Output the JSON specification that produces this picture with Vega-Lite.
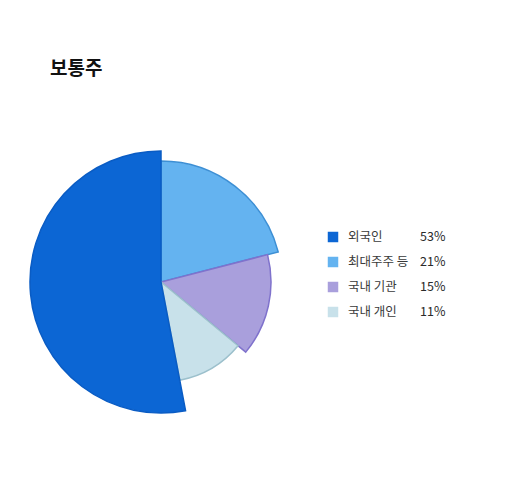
{
  "$schema": "https://vega.github.io/schema/vega-lite/v6.json",
  "background": "white",
  "padding": {"left": 27, "top": 60, "right": 0, "bottom": 0},
  "title": {
    "text": "보통주",
    "anchor": "start",
    "dx": 23,
    "offset": 69,
    "fontSize": 19,
    "fontWeight": "bold",
    "color": "#111111",
    "font": "Noto Sans CJK KR"
  },
  "data": {
    "values": [
      {"name": "최대주주 등", "value": 21, "pct": "21%", "order": 1},
      {"name": "국내 기관", "value": 15, "pct": "15%", "order": 2},
      {"name": "국내 개인", "value": 11, "pct": "11%", "order": 3},
      {"name": "외국인", "value": 53, "pct": "53%", "order": 4}
    ]
  },
  "spacing": 31,
  "hconcat": [
    {
      "width": 262,
      "height": 262,
      "mark": {"type": "arc", "strokeWidth": 1.5},
      "encoding": {
        "theta": {"field": "value", "type": "quantitative", "stack": true},
        "order": {"field": "order", "type": "quantitative"},
        "radius": {
          "field": "value",
          "type": "quantitative",
          "scale": {"type": "linear", "domain": [11, 15, 21, 53], "range": [100, 110, 121, 131], "zero": false}
        },
        "radius2": {"value": 0},
        "color": {
          "field": "name",
          "type": "nominal",
          "legend": null,
          "scale": {
            "domain": ["외국인", "최대주주 등", "국내 기관", "국내 개인"],
            "range": ["#0c66d4", "#64b3f0", "#a99fdc", "#c8e1ea"]
          }
        },
        "stroke": {
          "field": "name",
          "type": "nominal",
          "legend": null,
          "scale": {
            "domain": ["외국인", "최대주주 등", "국내 기관", "국내 개인"],
            "range": ["#0a5cc4", "#3d8fd4", "#7f72cc", "#9cc0cc"]
          }
        }
      }
    },
    {
      "width": 20,
      "height": 262,
      "encoding": {
        "y": {
          "field": "name",
          "type": "nominal",
          "axis": null,
          "scale": {"type": "point", "domain": ["외국인", "최대주주 등", "국내 기관", "국내 개인"], "range": [86, 161], "padding": 0}
        }
      },
      "layer": [
        {
          "mark": {"type": "square", "size": 110, "opacity": 1},
          "encoding": {
            "color": {
              "field": "name",
              "type": "nominal",
              "legend": null,
              "scale": {
                "domain": ["외국인", "최대주주 등", "국내 기관", "국내 개인"],
                "range": ["#0f50c2", "#6cb8f2", "#a59bd8", "#c5dde6"]
              }
            }
          }
        },
        {
          "mark": {"type": "text", "align": "left", "dx": 15, "fontSize": 12.5, "font": "Noto Sans CJK KR", "color": "#3a3a3a"},
          "encoding": {"text": {"field": "name", "type": "nominal"}}
        },
        {
          "mark": {"type": "text", "align": "left", "dx": 87, "fontSize": 12.5, "font": "Noto Sans CJK KR", "color": "#2a2a2a"},
          "encoding": {"text": {"field": "pct", "type": "nominal"}}
        }
      ]
    }
  ],
  "config": {"view": {"stroke": null}}
}
